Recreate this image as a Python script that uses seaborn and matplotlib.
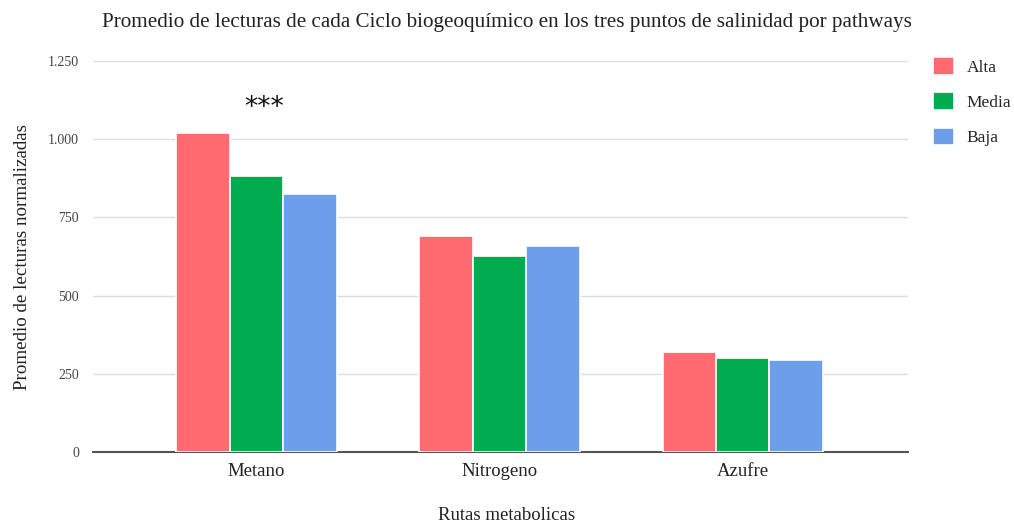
import numpy as np
import pandas as pd
import seaborn as sns
from matplotlib import pyplot as plt
from matplotlib.ticker import FuncFormatter

# data
rutas = ['Metano', 'Nitrogeno', 'Azufre']
salinidad = ['Alta', 'Media', 'Baja']
alta = [1020, 690, 320]
media = [882, 627, 300]
baja = [825, 659, 294]

df = pd.DataFrame({'ruta': rutas * 3,
                   'salinidad': [s for s in salinidad for _ in rutas],
                   'valor': alta + media + baja})

sns.set_theme(style='white')
plt.rcParams['font.family'] = ['Liberation Serif', 'DejaVu Serif']

fig = plt.figure(figsize=(10.14, 5.23), dpi=100)
ax = fig.add_axes([93 / 1014, 1 - 452 / 523, 815 / 1014, 391 / 523])

colors = ['#ff6b6e', '#00ac4f', '#6d9eeb']
sns.barplot(data=df, x='ruta', y='valor', hue='salinidad', hue_order=salinidad,
            order=rutas, palette=colors, width=0.66, saturation=1,
            edgecolor='white', linewidth=1.2, ax=ax, zorder=3)

ax.set_ylim(0, 1250)
ax.set_xlim(-0.673, 2.68)
ax.set_yticks([0, 250, 500, 750, 1000, 1250])
ax.yaxis.set_major_formatter(FuncFormatter(lambda v, p: f'{int(v):,}'.replace(',', '.')))
ax.grid(axis='y', color='#dddddd', linewidth=1, zorder=0)
ax.set_axisbelow(True)
for s in ['top', 'right', 'left']:
    ax.spines[s].set_visible(False)
ax.spines['bottom'].set_color('#555555')
ax.spines['bottom'].set_linewidth(1.5)
ax.tick_params(axis='y', length=0, pad=10, labelsize=10, labelcolor='#444444')
ax.tick_params(axis='x', length=0, pad=8, labelsize=13.5, labelcolor='#222222')

ax.set_xlabel('')
fig.text(507 / 1014, 1 - 515 / 523, 'Rutas metabolicas', ha='center', va='center',
         fontsize=13.5, color='#222222')
ax.set_ylabel('Promedio de lecturas normalizadas', fontsize=13.7, color='#222222', labelpad=12)
fig.text(507 / 1014, 1 - 23 / 523,
         'Promedio de lecturas de cada Ciclo biogeoquímico en los tres puntos de salinidad por pathways',
         ha='center', va='center', fontsize=15.2, color='#222222')

ax.text(0.03, 1100, '***', ha='center', va='center', fontsize=19,
        family=['DejaVu Sans'], color='#111111')

leg = ax.legend(loc='upper left', bbox_to_anchor=(1.012, 1.05), frameon=False,
                fontsize=12.5, handlelength=1.2, handleheight=1.2,
                labelspacing=0.95, handletextpad=0.7, title=None)

fig.savefig('out.png', dpi=100)
